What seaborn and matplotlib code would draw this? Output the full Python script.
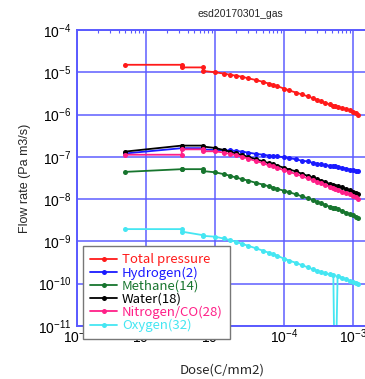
import numpy as np
import pandas as pd
import matplotlib
matplotlib.use("Agg")
import matplotlib.pyplot as plt
from matplotlib.ticker import LogLocator, NullFormatter
import seaborn as sns

# dose (C/mm2)
dose = [5.0e-7, 3.3e-6, 3.3e-6, 6.7e-6, 6.7e-6,
        1.0e-5, 1.33e-5, 1.67e-5, 2.0e-5, 2.5e-5, 3.0e-5, 4.0e-5, 5.0e-5, 6.0e-5, 7.0e-5,
        8.0e-5, 1.0e-4, 1.2e-4, 1.5e-4, 1.8e-4, 2.2e-4, 2.6e-4, 3.0e-4, 3.5e-4, 4.0e-4,
        4.6e-4, 5.2e-4, 5.5e-4, 6.0e-4, 7.0e-4, 8.0e-4, 9.0e-4, 1.0e-3, 1.1e-3, 1.2e-3]

total_pressure = [1.5e-5, 1.5e-5, 1.3e-5, 1.3e-5, 1.07e-5,
                  1.0e-5, 9.3e-6, 8.7e-6, 8.3e-6, 7.8e-6, 7.2e-6, 6.5e-6, 5.9e-6, 5.4e-6, 5.0e-6,
                  4.7e-6, 4.1e-6, 3.7e-6, 3.3e-6, 3.0e-6, 2.7e-6, 2.45e-6, 2.24e-6, 2.04e-6, 1.86e-6,
                  1.74e-6, 1.58e-6, 1.55e-6, 1.51e-6, 1.41e-6, 1.35e-6, 1.26e-6, 1.17e-6, 1.1e-6, 1.0e-6]

hydrogen = [1.2e-7, 1.6e-7, 1.6e-7, 1.6e-7, 1.5e-7,
            1.45e-7, 1.43e-7, 1.41e-7, 1.38e-7, 1.32e-7, 1.26e-7, 1.17e-7, 1.12e-7, 1.07e-7, 1.05e-7,
            1.02e-7, 9.8e-8, 9.3e-8, 8.7e-8, 8.1e-8, 7.8e-8, 7.2e-8, 6.9e-8, 6.6e-8, 6.3e-8,
            6.2e-8, 6.0e-8, 5.9e-8, 5.75e-8, 5.5e-8, 5.25e-8, 5.0e-8, 4.8e-8, 4.6e-8, 4.5e-8]

methane = [4.4e-8, 5.1e-8, 5.1e-8, 5.1e-8, 4.6e-8,
           4.3e-8, 3.9e-8, 3.55e-8, 3.24e-8, 2.95e-8, 2.75e-8, 2.4e-8, 2.2e-8, 2.0e-8, 1.86e-8,
           1.74e-8, 1.58e-8, 1.45e-8, 1.29e-8, 1.17e-8, 1.05e-8, 9.5e-9, 8.7e-9, 7.9e-9, 7.2e-9,
           6.6e-9, 6.2e-9, 6.0e-9, 5.75e-9, 5.25e-9, 4.8e-9, 4.4e-9, 4.1e-9, 3.8e-9, 3.55e-9]

water = [1.33e-7, 1.84e-7, 1.84e-7, 1.84e-7, 1.75e-7,
         1.62e-7, 1.45e-7, 1.32e-7, 1.2e-7, 1.1e-7, 1.0e-7, 8.7e-8, 7.8e-8, 7.1e-8, 6.6e-8,
         6.2e-8, 5.5e-8, 5.0e-8, 4.5e-8, 4.0e-8, 3.55e-8, 3.24e-8, 2.95e-8, 2.7e-8, 2.5e-8,
         2.3e-8, 2.1e-8, 2.04e-8, 2.0e-8, 1.9e-8, 1.74e-8, 1.62e-8, 1.51e-8, 1.41e-8, 1.32e-8]

nitrogen_co = [1.12e-7, 1.12e-7, 1.5e-7, 1.5e-7, 1.35e-7,
               1.35e-7, 1.26e-7, 1.17e-7, 1.1e-7, 1.0e-7, 9.1e-8, 7.9e-8, 7.1e-8, 6.3e-8, 5.9e-8,
               5.5e-8, 4.8e-8, 4.4e-8, 3.9e-8, 3.5e-8, 3.1e-8, 2.8e-8, 2.6e-8, 2.35e-8, 2.14e-8,
               1.95e-8, 1.78e-8, 1.74e-8, 1.66e-8, 1.51e-8, 1.38e-8, 1.29e-8, 1.17e-8, 1.1e-8, 1.0e-8]

oxygen = [1.95e-9, 1.95e-9, 1.7e-9, 1.4e-9, 1.35e-9,
          1.29e-9, 1.17e-9, 1.07e-9, 9.8e-10, 8.7e-10, 7.9e-10, 6.8e-10, 6.0e-10, 5.4e-10, 4.9e-10,
          4.6e-10, 3.9e-10, 3.5e-10, 3.1e-10, 2.75e-10, 2.45e-10, 2.2e-10, 2.04e-10, 1.86e-10, 1.74e-10,
          1.66e-10, 1.62e-10, 1e-13, 1.51e-10, 1.38e-10, 1.26e-10, 1.17e-10, 1.1e-10, 1.05e-10, 9.8e-11]

labels = ["Total pressure", "Hydrogen(2)", "Methane(14)", "Water(18)", "Nitrogen/CO(28)", "Oxygen(32)"]
values = [total_pressure, hydrogen, methane, water, nitrogen_co, oxygen]
colors = ["#ff1a1a", "#1a1aff", "#17752e", "#000000", "#ff2088", "#45e6f2"]

GRID = "#5a5aff"

sns.set_theme(style="white")
plt.rcParams["font.family"] = ["Liberation Sans", "DejaVu Sans"]

fig = plt.figure(figsize=(3.65, 3.79), dpi=100)
ax = fig.add_axes([0.211, 0.140, 0.797, 0.781])
ax.set_xscale("log")
ax.set_yscale("log")

for name, vals, c in zip(labels, values, colors):
    sns.lineplot(x=dose, y=vals, ax=ax, color=c, marker="o", markersize=3.6,
                 markeredgewidth=0, linewidth=1.3, estimator=None, sort=False,
                 label=name, legend=False)

ax.set_xlim(1e-7, 1.65e-3)
ax.set_ylim(1e-11, 1e-4)

ax.xaxis.set_major_locator(LogLocator(base=10, numticks=20))
ax.yaxis.set_major_locator(LogLocator(base=10, numticks=20))
ax.xaxis.set_minor_locator(LogLocator(base=10, subs=np.arange(2, 10), numticks=20))
ax.yaxis.set_minor_locator(LogLocator(base=10, subs=np.arange(2, 10), numticks=20))
ax.xaxis.set_minor_formatter(NullFormatter())
ax.yaxis.set_minor_formatter(NullFormatter())

ax.grid(True, which="major", color=GRID, linewidth=1.2, alpha=0.9)
for s in ax.spines.values():
    s.set_color(GRID)
    s.set_linewidth(1.4)
ax.tick_params(which="both", direction="in", top=True, right=True, color=GRID)
ax.tick_params(which="major", length=0, labelsize=10, pad=4, labelcolor="black")
ax.tick_params(axis="x", which="major", pad=1)
ax.tick_params(which="minor", length=2.5, width=0.8)

ax.set_title("esd20170301_gas", fontsize=7.5, pad=9, x=0.56)
ax.set_ylabel("Flow rate (Pa m3/s)", fontsize=9, labelpad=5)
ax.set_xlabel("Dose(C/mm2)", fontsize=9.5, labelpad=13,
              family=["Noto Sans CJK JP", "DejaVu Sans"])

leg = ax.legend(loc="upper left", bbox_to_anchor=(0.021, 0.27), borderaxespad=0,
                frameon=True, fancybox=False, framealpha=1, edgecolor="#777777",
                handlelength=2.0, handletextpad=0.4, labelspacing=0.0, borderpad=0.55,
                prop={"family": ["Noto Sans CJK JP", "DejaVu Sans"], "size": 9.5})
leg.get_frame().set_linewidth(1.0)
for t, c in zip(leg.get_texts(), colors):
    t.set_color(c)

fig.savefig("out.png", dpi=100)
